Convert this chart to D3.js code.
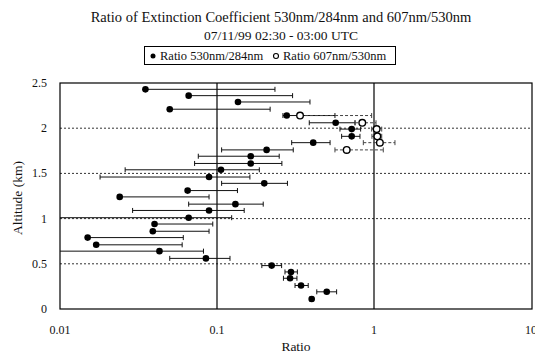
<!DOCTYPE html>
<html>
<head>
<meta charset="utf-8">
<script src="https://cdn.jsdelivr.net/npm/d3@7.9.0/dist/d3.min.js"></script>
<style>
  body { margin: 0; background: #fff; }
  svg { display: block; }
</style>
</head>
<body>
<svg id="chart" width="535" height="354"></svg>
<script>
// ratio 530nm/284nm (filled markers)
const altFilled = [2.43, 2.36, 2.29, 2.21, 2.14, 2.06, 1.99, 1.91, 1.84, 1.76, 1.69, 1.61, 1.54, 1.46, 1.39, 1.31,
  1.24, 1.16, 1.09, 1.01, 0.94, 0.86, 0.79, 0.71, 0.64, 0.56, 0.48, 0.41, 0.34, 0.26, 0.19, 0.11];
const ratioFilled = [0.035, 0.066, 0.136, 0.050, 0.278, 0.570, 0.721, 0.721, 0.410, 0.207, 0.164, 0.164, 0.106, 0.089, 0.200, 0.065,
  0.024, 0.131, 0.089, 0.066, 0.040, 0.039, 0.015, 0.017, 0.043, 0.085, 0.223, 0.296, 0.292, 0.343, 0.500, 0.401];
const loFilled = [0.035, 0.066, 0.136, 0.050, 0.263, 0.387, 0.607, 0.622, 0.299, 0.107, 0.076, 0.072, 0.026, 0.018, 0.107, 0.065,
  0.024, 0.066, 0.029, 0.005, 0.040, 0.039, 0.015, 0.017, 0.005, 0.050, 0.193, 0.271, 0.265, 0.314, 0.432, 0.390];
const hiFilled = [0.234, 0.303, 0.391, 0.218, 0.564, 0.757, 0.822, 0.814, 0.525, 0.306, 0.249, 0.259, 0.186, 0.162, 0.281, 0.135,
  0.089, 0.197, 0.149, 0.124, 0.094, 0.089, 0.061, 0.060, 0.082, 0.121, 0.258, 0.325, 0.323, 0.381, 0.578, 0.410];

// ratio 607nm/530nm (open markers)
const altOpen = [2.14, 2.06, 1.99, 1.91, 1.84, 1.76];
const ratioOpen = [0.338, 0.842, 1.04, 1.05, 1.09, 0.670];
const loOpen = [0.338, 0.757, 0.966, 0.970, 0.855, 0.564];
const hiOpen = [0.966, 1.03, 1.12, 1.12, 1.36, 1.146];

const xTicks = [0.01, 0.1, 1, 10];
const xTickLabels = ['0.01', '0.1', '1', '10'];
const yTicks = [0, 0.5, 1, 1.5, 2, 2.5];
const yTickLabels = ['0', '0.5', '1', '1.5', '2', '2.5'];
const seriesNames = ['Ratio 530nm/284nm', 'Ratio 607nm/530nm'];

const serif = "'Liberation Serif', 'Times New Roman', Times, serif";
const svg = d3.select('#chart').attr('font-family', serif);
const plotL = 60, plotR = 532, plotT = 83, plotB = 309;

const x = d3.scaleLog().domain([0.01, 10]).range([plotL, 531]);
const y = d3.scaleLinear().domain([0, 2.5]).range([plotB, plotT]);

function label(px, py, size, txt, anchor = 'middle') {
  return svg.append('text').attr('x', px).attr('y', py).attr('text-anchor', anchor)
    .attr('font-family', serif).attr('font-size', size).attr('fill', '#111').text(txt);
}

// titles
label(281, 22, 14.5, 'Ratio of Extinction Coefficient 530nm/284nm and 607nm/530nm');
label(281, 40, 13.5, '07/11/99 02:30 - 03:00 UTC');

// legend
svg.append('rect').attr('x', 144.5).attr('y', 46.5).attr('width', 251).attr('height', 18)
  .attr('fill', '#fff').attr('stroke', '#000');
svg.append('circle').attr('cx', 153).attr('cy', 56).attr('r', 2.5).attr('fill', '#000');
label(160, 60, 12.5, seriesNames[0], 'start');
svg.append('circle').attr('cx', 276).attr('cy', 56).attr('r', 2.5).attr('fill', 'none')
  .attr('stroke', '#000').attr('stroke-width', 1.1);
label(283, 60, 12.5, seriesNames[1], 'start');

svg.append('clipPath').attr('id', 'plotClip')
  .append('rect').attr('x', plotL).attr('y', plotT - 2).attr('width', plotR - plotL).attr('height', plotB - plotT + 4);

// grid
yTicks.slice(1, -1).forEach(v => {
  svg.append('line').attr('x1', plotL).attr('x2', plotR).attr('y1', y(v)).attr('y2', y(v))
    .attr('stroke', '#333').attr('stroke-dasharray', '2,2').attr('stroke-width', 1);
});
[0.1, 1].forEach(v => {
  svg.append('line').attr('x1', x(v)).attr('x2', x(v)).attr('y1', plotT).attr('y2', plotB)
    .attr('stroke', '#000').attr('stroke-width', 1.2);
});
svg.append('rect').attr('x', plotL).attr('y', plotT).attr('width', plotR - plotL).attr('height', plotB - plotT)
  .attr('fill', 'none').attr('stroke', '#000').attr('stroke-width', 1.2);

// error bars
const plot = svg.append('g').attr('clip-path', 'url(#plotClip)');
function drawBars(alts, vals, los, his, dash, color) {
  alts.forEach((a, i) => {
    const yy = y(a);
    plot.append('line').attr('x1', x(los[i])).attr('x2', x(his[i])).attr('y1', yy).attr('y2', yy)
      .attr('stroke', color).attr('stroke-width', 1).attr('stroke-dasharray', dash);
    [los[i], his[i]].forEach(e => {
      if (e === vals[i]) return;
      plot.append('line').attr('x1', x(e)).attr('x2', x(e)).attr('y1', yy - 2.5).attr('y2', yy + 2.5)
        .attr('stroke', color).attr('stroke-width', 1);
    });
  });
}
drawBars(altFilled, ratioFilled, loFilled, hiFilled, null, '#111');
drawBars(altOpen, ratioOpen, loOpen, hiOpen, '3,2', '#444');

// markers
altFilled.forEach((a, i) => {
  plot.append('circle').attr('cx', x(ratioFilled[i])).attr('cy', y(a)).attr('r', 3.3).attr('fill', '#000');
});
altOpen.forEach((a, i) => {
  plot.append('circle').attr('cx', x(ratioOpen[i])).attr('cy', y(a)).attr('r', 3.3)
    .attr('fill', '#fff').attr('stroke', '#000').attr('stroke-width', 1.4);
});

// tick labels (the "10" runs off the right edge in the original too)
xTicks.forEach((v, i) => label(x(v), 334, 12, xTickLabels[i]));
yTicks.forEach((v, i) => label(47, y(v) + 4, 12, yTickLabels[i], 'end'));

// axis titles
label(296, 351, 13.5, 'Ratio');
label(0, 0, 13.5, 'Altitude (km)').attr('transform', 'translate(22,198) rotate(-90)');
</script>
</body>
</html>
